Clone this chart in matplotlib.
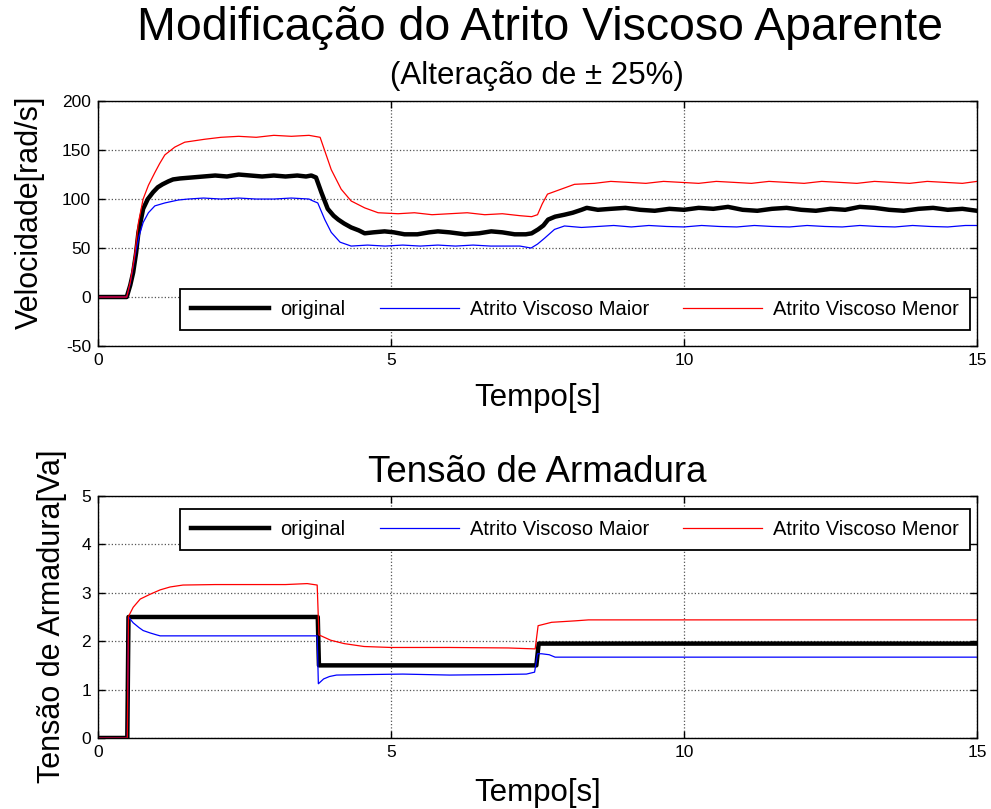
import matplotlib
matplotlib.use("Agg")
import matplotlib.pyplot as plt

plt.rcParams["font.family"] = ["Liberation Sans", "DejaVu Sans"]
plt.rcParams["axes.unicode_minus"] = False

# ---------------- velocity (rad/s) ----------------
t_vel_orig = [0, 0.49, 0.55, 0.60, 0.65, 0.69, 0.77, 0.85, 0.94, 1.02, 1.10, 1.20, 1.28, 1.40,
              1.60, 1.80, 2.00, 2.20, 2.40, 2.60, 2.80, 3.00, 3.20, 3.40, 3.55, 3.64, 3.72,
              3.81, 3.92, 4.02, 4.10, 4.20, 4.32, 4.45, 4.55, 4.70, 4.89, 5.05, 5.23, 5.45,
              5.65, 5.80, 6.00, 6.26, 6.50, 6.71, 6.90, 7.11, 7.30, 7.40, 7.51, 7.60, 7.68,
              7.80, 7.96, 8.10, 8.25, 8.34, 8.53, 8.75, 9.00, 9.25, 9.50, 9.75, 10.0, 10.25,
              10.5, 10.75, 11.0, 11.25, 11.5, 11.75, 12.0, 12.25, 12.5, 12.75, 13.0, 13.25,
              13.5, 13.75, 14.0, 14.25, 14.5, 14.75, 15.0]
v_orig = [0, 0, 12, 25, 45, 66, 90, 100, 107, 112, 115, 118, 120, 121,
          122, 123, 124, 123, 125, 124, 123, 124, 123, 124, 123, 124, 122,
          107, 90, 83, 79, 75, 71, 68, 65, 66, 67, 66, 64, 64,
          66, 67, 66, 64, 65, 67, 66, 64, 64, 65, 69, 73, 79,
          82, 84, 86, 89, 91, 89, 90, 91, 89, 88, 90, 89, 91,
          90, 92, 89, 88, 90, 91, 89, 88, 90, 89, 92, 91,
          89, 88, 90, 91, 89, 90, 88]

t_vel_maior = [0, 0.49, 0.55, 0.64, 0.70, 0.77, 0.86, 0.97, 1.14, 1.37, 1.54, 1.80, 2.10, 2.40,
               2.70, 3.00, 3.30, 3.60, 3.67, 3.75, 3.87, 3.98, 4.13, 4.32, 4.60, 4.90, 5.20,
               5.50, 5.80, 6.10, 6.40, 6.70, 7.00, 7.20, 7.39, 7.50, 7.62, 7.79, 7.96, 8.25,
               8.53, 8.80, 9.10, 9.40, 9.70, 10.0, 10.3, 10.6, 10.9, 11.2, 11.5, 11.8, 12.1,
               12.4, 12.7, 13.0, 13.3, 13.6, 13.9, 14.2, 14.5, 14.8, 15.0]
v_maior = [0, 0, 14, 45, 62, 76, 86, 93, 96, 99, 100, 101, 100, 101,
           100, 100, 101, 100, 98, 96, 79, 66, 56, 52, 53, 52, 53,
           52, 53, 52, 53, 52, 52, 52, 50, 54, 60, 69, 72.5, 71,
           72, 73, 71.5, 73, 72, 71.5, 73, 72, 71.5, 73, 72, 71.5, 73,
           72, 71.5, 73, 72, 71.5, 73, 72, 71.5, 73, 73]

t_vel_menor = [0, 0.49, 0.55, 0.62, 0.69, 0.77, 0.86, 0.97, 1.05, 1.14, 1.31, 1.48, 1.82, 2.10,
               2.40, 2.70, 3.00, 3.30, 3.60, 3.79, 3.98, 4.15, 4.32, 4.55, 4.78, 5.12, 5.40,
               5.70, 6.00, 6.30, 6.60, 6.90, 7.20, 7.40, 7.50, 7.58, 7.67, 7.90, 8.13, 8.47,
               8.75, 9.05, 9.35, 9.65, 9.95, 10.25, 10.55, 10.85, 11.15, 11.45, 11.75, 12.05,
               12.35, 12.65, 12.95, 13.25, 13.55, 13.85, 14.15, 14.45, 14.75, 15.0]
v_menor = [0, 0, 15, 40, 76, 100, 114, 127, 136, 145, 153, 158, 161, 163,
           164, 163, 165, 164, 165, 163, 130, 110, 98, 91, 86, 85, 86,
           84, 85, 86, 84, 85, 83, 82, 84, 95, 105, 110, 115, 116,
           118, 117, 116, 118, 117, 116, 118, 117, 116, 118, 117, 116,
           118, 117, 116, 118, 117, 116, 118, 117, 116, 118]

# ---------------- armature voltage (V) ----------------
t_va_orig = [0, 0.50, 0.52, 3.75, 3.77, 7.48, 7.52, 15.0]
va_orig = [0, 0, 2.5, 2.5, 1.5, 1.5, 1.95, 1.95]

t_va_maior = [0, 0.50, 0.52, 0.60, 0.70, 0.77, 0.89, 1.00, 1.06, 3.74, 3.76, 3.85, 3.95,
              4.07, 4.60, 5.20, 6.00, 6.80, 7.31, 7.45, 7.50, 7.57, 7.70, 7.80, 15.0]
va_maior = [0, 0, 2.5, 2.38, 2.28, 2.22, 2.17, 2.13, 2.11, 2.11, 1.12, 1.22, 1.27,
            1.30, 1.31, 1.32, 1.30, 1.31, 1.32, 1.36, 1.74, 1.74, 1.72, 1.67, 1.67]

t_va_menor = [0, 0.50, 0.52, 0.60, 0.72, 0.89, 1.06, 1.23, 1.45, 2.00, 2.60, 3.20, 3.57,
              3.74, 3.77, 3.97, 4.20, 4.54, 5.00, 6.00, 7.00, 7.46, 7.51, 7.74, 8.14, 8.37, 15.0]
va_menor = [0, 0, 2.51, 2.70, 2.87, 2.97, 3.06, 3.12, 3.16, 3.17, 3.17, 3.17, 3.19,
            3.16, 2.13, 2.02, 1.95, 1.89, 1.87, 1.87, 1.86, 1.84, 2.32, 2.39, 2.42, 2.44, 2.44]

labels = ["original", "Atrito Viscoso Maior", "Atrito Viscoso Menor"]
x_ticks = [0, 5, 10, 15]
vel_ticks = [-50, 0, 50, 100, 150, 200]
va_ticks = [0, 1, 2, 3, 4, 5]

fig = plt.figure(figsize=(9.91, 8.09), dpi=100)
ax1 = fig.add_axes([0.0989, 0.5723, 0.8870, 0.3028])
ax2 = fig.add_axes([0.0989, 0.0878, 0.8870, 0.2991])


def style(ax, yticks):
    ax.set_xlim(0, 15)
    ax.set_ylim(yticks[0], yticks[-1])
    ax.set_xticks(x_ticks)
    ax.set_yticks(yticks)
    ax.tick_params(direction="in", top=True, right=True, length=5, width=1,
                   labelsize=12.5, pad=5)
    ax.grid(True, linestyle=":", color="#555555", linewidth=0.9)
    for s in ax.spines.values():
        s.set_linewidth(1.0)


def add_labels(ax, xlab_y, ylab, ylab_x, ylab_y):
    ax.set_xlabel("Tempo[s]", fontsize=22.5)
    ax.xaxis.label.set_va("center")
    ax.xaxis.set_label_coords(0.5, xlab_y)
    ax.set_ylabel(ylab, fontsize=22)
    ax.yaxis.label.set_va("center")
    ax.yaxis.set_label_coords(ylab_x, ylab_y)


def add_legend(ax, y0):
    leg = ax.legend(loc="lower left", bbox_to_anchor=(0.093, y0, 0.899, 0.164),
                    mode="expand", ncol=3, fontsize=14.5, handlelength=3.9,
                    handletextpad=0.55, columnspacing=1.0, borderpad=0.55,
                    borderaxespad=0.0,
                    fancybox=False, framealpha=1, edgecolor="black")
    leg.get_frame().set_linewidth(1.3)


ax1.plot(t_vel_orig, v_orig, color="black", lw=3.2, label=labels[0])
ax1.plot(t_vel_maior, v_maior, color="blue", lw=0.9, label=labels[1])
ax1.plot(t_vel_menor, v_menor, color="red", lw=0.9, label=labels[2])
style(ax1, vel_ticks)
add_labels(ax1, -0.212, "Velocidade[rad/s]", -0.0774, 0.547)
add_legend(ax1, 0.065)

ax2.plot(t_va_orig, va_orig, color="black", lw=3.2, label=labels[0])
ax2.plot(t_va_maior, va_maior, color="blue", lw=0.9, label=labels[1])
ax2.plot(t_va_menor, va_menor, color="red", lw=0.9, label=labels[2])
style(ax2, va_ticks)
add_labels(ax2, -0.227, "Tensão de Armadura[Va]", -0.0523, 0.504)
ax2.set_title("Tensão de Armadura", fontsize=26.5, pad=10)
add_legend(ax2, 0.777)

fig.text(0.545, 0.965, "Modificação do Atrito Viscoso Aparente", fontsize=33.5,
         ha="center", va="center")
fig.text(0.542, 0.906, "(Alteração de \u00b1 25%)", fontsize=22.5,
         ha="center", va="center")

fig.savefig("out.png", dpi=100)
